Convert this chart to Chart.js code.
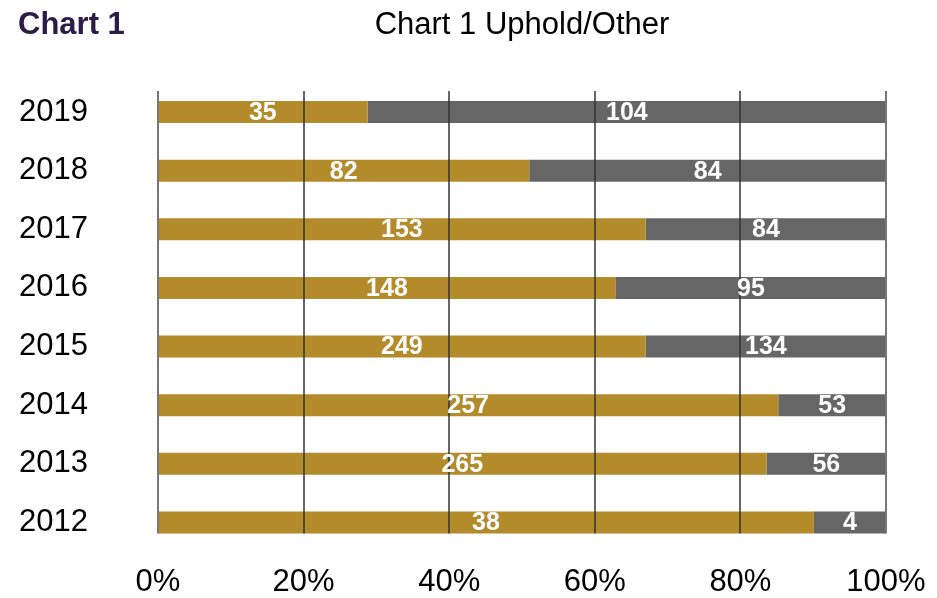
<!DOCTYPE html>
<html>
<head>
<meta charset="utf-8">
<script src="https://cdn.jsdelivr.net/npm/chart.js@4/dist/chart.umd.min.js"></script>
<style>
  html, body { margin: 0; padding: 0; background: #ffffff; }
  #wrap { width: 937px; height: 598px; position: relative; }
</style>
</head>
<body>
<div id="wrap"><canvas id="c" width="937" height="598"></canvas></div>
<script>
// ---- data ----
const years = ['2019', '2018', '2017', '2016', '2015', '2014', '2013', '2012'];
const upholdCounts = [35, 82, 153, 148, 249, 257, 265, 38];
const otherCounts = [104, 84, 84, 95, 134, 53, 56, 4];
// bar lengths (share of 100%) as drawn in the picture
const upholdPct = [28.8, 51.0, 67.0, 62.9, 67.0, 85.2, 83.6, 90.1];
const otherPct = [71.2, 49.0, 33.0, 37.1, 33.0, 14.8, 16.4, 9.9];
const xTickValues = [0, 20, 40, 60, 80, 100];
const xTickLabels = ['0%', '20%', '40%', '60%', '80%', '100%'];
const headerText = 'Chart 1';
const titleText = 'Chart 1 Uphold/Other';

const FONT = "'Liberation Sans', Arial, Helvetica, sans-serif";
const GOLD = '#B38B2B';
const GREY = '#666666';

const overlayPlugin = {
  id: 'overlay',
  afterDatasetsDraw(chart) {
    const ctx = chart.ctx;
    const x = chart.scales.x;
    const y = chart.scales.y;
    const first = chart.getDatasetMeta(0).data[0];
    const last = chart.getDatasetMeta(0).data[years.length - 1];
    const top = first.y - first.height / 2 - 10;
    const bottom = last.y + last.height / 2;
    ctx.save();
    // gridlines (drawn over the bars, like the reference)
    xTickValues.forEach(v => {
      const px = Math.round(x.getPixelForValue(v));
      if (v === 0 || v === 100) {
        ctx.strokeStyle = '#777777';
        ctx.lineWidth = 2;
      } else {
        ctx.strokeStyle = '#333333';
        ctx.lineWidth = 1.5;
      }
      ctx.beginPath();
      ctx.moveTo(px, top);
      ctx.lineTo(px, bottom);
      ctx.stroke();
    });
    // data labels
    ctx.fillStyle = '#ffffff';
    ctx.font = 'bold 25px ' + FONT;
    ctx.textAlign = 'center';
    ctx.textBaseline = 'middle';
    const countSets = [upholdCounts, otherCounts];
    chart.data.datasets.forEach((ds, di) => {
      const meta = chart.getDatasetMeta(di);
      meta.data.forEach((bar, i) => {
        const cx = (bar.x + bar.base) / 2;
        ctx.fillText(String(countSets[di][i]), cx, bar.y + 1);
      });
    });
    // category labels (y axis)
    ctx.fillStyle = '#000000';
    ctx.font = '31px ' + FONT;
    ctx.textAlign = 'right';
    years.forEach((lab, i) => {
      ctx.fillText(lab, x.left - 70, y.getPixelForValue(i));
    });
    // value tick labels (x axis)
    ctx.textAlign = 'center';
    xTickValues.forEach((v, i) => {
      ctx.fillText(xTickLabels[i], x.getPixelForValue(v), 582);
    });
    ctx.restore();
  },
  afterDraw(chart) {
    const ctx = chart.ctx;
    const area = chart.chartArea;
    ctx.save();
    ctx.textBaseline = 'alphabetic';
    ctx.textAlign = 'left';
    ctx.fillStyle = '#2B1B47';
    ctx.font = 'bold 31px ' + FONT;
    ctx.fillText(headerText, 18, 34);
    ctx.textAlign = 'center';
    ctx.fillStyle = '#000000';
    ctx.font = '31px ' + FONT;
    ctx.fillText(titleText, (area.left + area.right) / 2, 34);
    ctx.restore();
  }
};

new Chart(document.getElementById('c'), {
  type: 'bar',
  data: {
    labels: years,
    datasets: [
      { label: 'Uphold', data: upholdPct, backgroundColor: GOLD, borderWidth: 0 },
      { label: 'Other', data: otherPct, backgroundColor: GREY, borderWidth: 0 }
    ]
  },
  options: {
    indexAxis: 'y',
    responsive: false,
    animation: false,
    devicePixelRatio: 1,
    layout: { padding: { top: 82.7, left: 158, right: 51, bottom: 46.3 } },
    datasets: { bar: { barPercentage: 0.375, categoryPercentage: 1.0 } },
    plugins: {
      legend: { display: false },
      title: { display: false },
      tooltip: { enabled: false }
    },
    scales: {
      x: {
        stacked: true,
        min: 0,
        max: 100,
        display: false
      },
      y: {
        stacked: true,
        display: false
      }
    }
  },
  plugins: [overlayPlugin]
});
</script>
</body>
</html>
